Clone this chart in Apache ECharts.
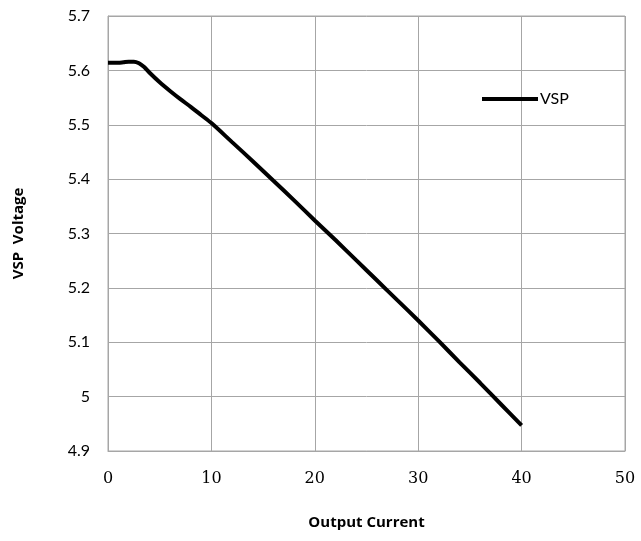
<!DOCTYPE html>
<html>
<head>
<meta charset="utf-8">
<script src="https://cdn.jsdelivr.net/npm/echarts@6/dist/echarts.min.js"></script>
<style>
  html, body { margin: 0; padding: 0; background: #fff; }
  #chart { width: 641px; height: 541px; }
</style>
</head>
<body>
<div id="chart"></div>
<script>
// Output current (A) and measured VSP voltage (V)
const current = [0, 0.5, 1, 1.5, 2, 2.5, 3, 3.5, 4, 5, 6, 7, 8, 9, 10,
  12, 14, 16, 18, 20, 22, 24, 26, 28, 30, 32, 34, 36, 38, 40];
const vsp = [5.614, 5.614, 5.614, 5.615, 5.616, 5.616, 5.613, 5.606, 5.596, 5.578,
  5.562, 5.547, 5.533, 5.518, 5.503, 5.468, 5.433, 5.397, 5.361, 5.324,
  5.288, 5.251, 5.214, 5.177, 5.140, 5.102, 5.063, 5.025, 4.986, 4.947];
const seriesName = 'VSP';
const xTitle = 'Output Current';
const yTitle = 'VSP  Voltage';

const gridColor = '#a6a6a6';
const chart = echarts.init(document.getElementById('chart'));
chart.setOption({
  animation: false,
  backgroundColor: '#fff',
  grid: {
    left: 108, right: 16, top: 16, bottom: 90,
    show: true, borderColor: gridColor, borderWidth: 1
  },
  legend: {
    data: [seriesName],
    left: 477, top: 86,
    itemWidth: 56, itemHeight: 4, itemGap: 0,
    icon: 'rect',
    textStyle: { fontFamily: 'Lato', fontSize: 16, color: '#000', padding: [0, 0, 0, -3] }
  },
  xAxis: {
    type: 'value', min: 0, max: 50, interval: 10,
    name: xTitle, nameLocation: 'middle', nameGap: 64,
    nameTextStyle: { fontFamily: 'Open Sans', fontWeight: 'bold', fontSize: 15, color: '#000' },
    axisLine: { show: true, lineStyle: { color: gridColor } },
    axisTick: { show: false },
    splitLine: { show: true, lineStyle: { color: gridColor, width: 1 } },
    axisLabel: { margin: 20, fontFamily: 'DejaVu Serif', fontSize: 16, color: '#000' }
  },
  yAxis: {
    type: 'value', min: 4.9, max: 5.7, interval: 0.1,
    name: yTitle, nameLocation: 'middle', nameGap: 82, nameRotate: 90,
    nameTextStyle: { fontFamily: 'Open Sans', fontWeight: 'bold', fontSize: 15, color: '#000' },
    axisLine: { show: true, lineStyle: { color: gridColor } },
    axisTick: { show: false },
    splitLine: { show: true, lineStyle: { color: gridColor, width: 1 } },
    axisLabel: {
      margin: 18, fontFamily: 'Lato', fontSize: 16, color: '#000',
      formatter: v => String(Math.round(v * 10) / 10)
    }
  },
  series: [{
    name: seriesName,
    type: 'line',
    data: current.map((c, i) => [c, vsp[i]]),
    smooth: 0.3,
    showSymbol: false,
    symbol: 'none',
    lineStyle: { color: '#000', width: 4 },
    itemStyle: { color: '#000' }
  }]
});
</script>
</body>
</html>
